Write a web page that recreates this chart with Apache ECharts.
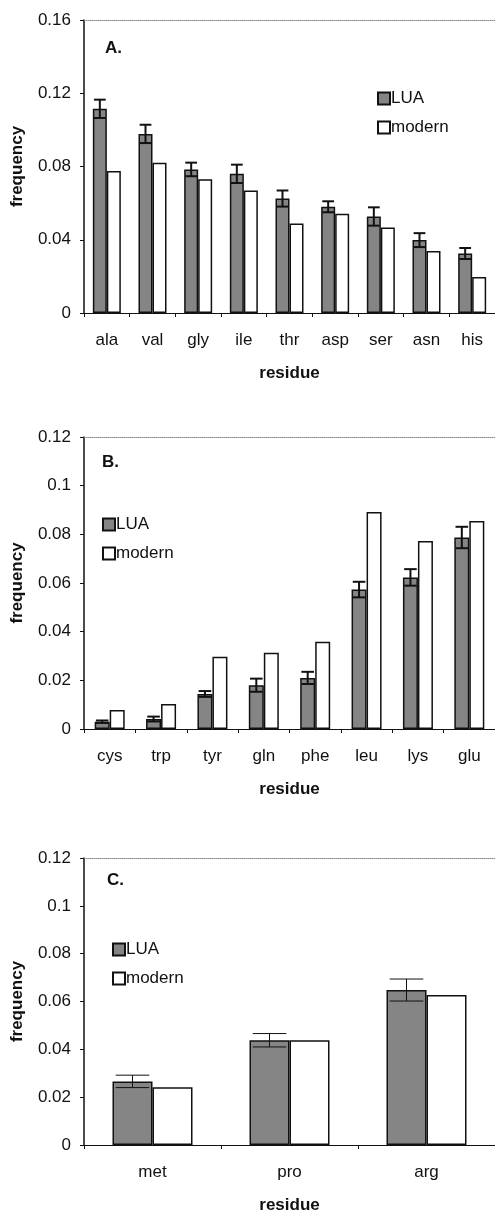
<!DOCTYPE html>
<html>
<head>
<meta charset="utf-8">
<script src="https://cdn.jsdelivr.net/npm/echarts@6/dist/echarts.min.js"></script>
<style>
  * { margin: 0; padding: 0; }
  body { background: #fff; }
  #main { width: 495px; height: 1215px; }
</style>
</head>
<body>
<div id="main"></div>
<script>
  // panel A
  var resA = ['ala', 'val', 'gly', 'ile', 'thr', 'asp', 'ser', 'asn', 'his'];
  var luaA = [0.1115, 0.0978, 0.0784, 0.076, 0.0625, 0.058, 0.0527, 0.0398, 0.0325];
  var errA = [0.005, 0.005, 0.0037, 0.005, 0.0044, 0.003, 0.005, 0.0038, 0.003];
  var modA = [0.0775, 0.082, 0.0731, 0.0669, 0.0489, 0.0542, 0.0467, 0.0338, 0.0196];
  // panel B
  var resB = ['cys', 'trp', 'tyr', 'gln', 'phe', 'leu', 'lys', 'glu'];
  var luaB = [0.003, 0.0041, 0.0144, 0.018, 0.021, 0.0573, 0.0623, 0.0787];
  var errB = [0.0005, 0.001, 0.0012, 0.0027, 0.0025, 0.0032, 0.0034, 0.0044];
  var modB = [0.0078, 0.0103, 0.0297, 0.0313, 0.0359, 0.0892, 0.0773, 0.0855];
  // panel C
  var resC = ['met', 'pro', 'arg'];
  var luaC = [0.0266, 0.0438, 0.0648];
  var errC = [0.0026, 0.0028, 0.0046];
  var modC = [0.0241, 0.0438, 0.0627];

  var yMax = [0.16, 0.12, 0.12];
  var yStep = [0.04, 0.02, 0.02];

  var font = 'Liberation Sans, Arial, sans-serif';
  var ink = '#111';
  var fs = 17;

  var charts = echarts.init(document.getElementById('main'));

  function errData(lua, err) {
    return lua.map(function (v, i) { return [i, v - err[i], v + err[i]]; });
  }

  function errRender(barW, lw) {
    return function (params, api) {
      var i = api.value(0);
      var top = api.coord([i, api.value(2)]);
      var bot = api.coord([i, api.value(1)]);
      var cx = top[0] - barW / 2;
      var half = barW * 0.42;
      var st = { stroke: ink, lineWidth: lw };
      return {
        type: 'group',
        children: [
          { type: 'line', shape: { x1: cx, y1: top[1], x2: cx, y2: bot[1] }, style: st },
          { type: 'line', shape: { x1: cx - half, y1: top[1], x2: cx + half, y2: top[1] }, style: st },
          { type: 'line', shape: { x1: cx - half, y1: bot[1], x2: cx + half, y2: bot[1] }, style: st }
        ]
      };
    };
  }

  var grids = [
    { left: 84, top: 20, width: 412, height: 293 },
    { left: 84, top: 437, width: 413, height: 292 },
    { left: 84, top: 858, width: 413, height: 293 }
  ];
  var cats = [resA, resB, resC];
  var barW = [14, 15, 40];
  var errW = [2, 2, 1];

  var xAxis = [], yAxis = [], series = [];
  cats.forEach(function (c, k) {
    xAxis.push({
      type: 'category', gridIndex: k, data: c, position: 'bottom',
      axisLine: { lineStyle: { color: ink, width: 1 } },
      axisTick: { show: true, inside: false, length: 4, alignWithLabel: false, interval: 0, lineStyle: { color: ink } },
      axisLabel: { interval: 0, margin: 19, color: ink, fontSize: fs, fontFamily: font },
      name: 'residue', nameLocation: 'middle', nameGap: 52,
      nameTextStyle: { color: ink, fontSize: fs, fontWeight: 'bold', fontFamily: font }
    });
    // dotted top border
    xAxis.push({
      type: 'category', gridIndex: k, data: c, position: 'top',
      axisLine: { lineStyle: { color: '#888', width: 1, type: 'dotted' } },
      axisTick: { show: false }, axisLabel: { show: false }
    });
    yAxis.push({
      type: 'value', gridIndex: k, min: 0, max: yMax[k], interval: yStep[k],
      axisLine: { show: true, lineStyle: { color: ink, width: 1.5 } },
      axisTick: { show: true, length: 4, lineStyle: { color: ink } },
      axisLabel: { margin: 13, color: ink, fontSize: fs, fontFamily: font },
      splitLine: { show: false },
      name: 'frequency', nameLocation: 'middle', nameGap: 58,
      nameTextStyle: { color: ink, fontSize: fs, fontWeight: 'bold', fontFamily: font }
    });
  });

  var luaAll = [luaA, luaB, luaC];
  var modAll = [modA, modB, modC];
  var errAll = [errA, errB, errC];
  for (var k = 0; k < 3; k++) {
    series.push({
      name: 'LUA', type: 'bar', xAxisIndex: k * 2, yAxisIndex: k,
      data: luaAll[k], barWidth: barW[k], barGap: '0%',
      itemStyle: { color: '#858585', borderColor: ink, borderWidth: 1.5 }
    });
    series.push({
      name: 'modern', type: 'bar', xAxisIndex: k * 2, yAxisIndex: k,
      data: modAll[k], barWidth: barW[k], barGap: '0%',
      itemStyle: { color: '#fff', borderColor: ink, borderWidth: 1.5 }
    });
    series.push({
      type: 'custom', xAxisIndex: k * 2, yAxisIndex: k, z: 5,
      data: errData(luaAll[k], errAll[k]),
      encode: { x: 0, y: [1, 2] },
      renderItem: errRender(barW[k], errW[k])
    });
  }

  var legendBase = {
    data: ['LUA', 'modern'], orient: 'vertical', icon: 'rect',
    itemWidth: 12, itemHeight: 12, itemGap: 12,
    textStyle: { color: ink, fontSize: fs, fontFamily: font, padding: [0, 0, 0, -4] }
  };
  var titleStyle = { fontSize: fs, fontWeight: 'bold', color: ink, fontFamily: font };

  charts.setOption({
    animation: false,
    title: [
      { text: 'A.', left: 100, top: 35, textStyle: titleStyle },
      { text: 'B.', left: 97, top: 449, textStyle: titleStyle },
      { text: 'C.', left: 102, top: 867, textStyle: titleStyle }
    ],
    legend: [
      Object.assign({ left: 372, top: 85 }, legendBase),
      Object.assign({ left: 97, top: 511 }, legendBase),
      Object.assign({ left: 107, top: 936 }, legendBase)
    ],
    grid: grids,
    xAxis: xAxis,
    yAxis: yAxis,
    series: series
  });
</script>
</body>
</html>
